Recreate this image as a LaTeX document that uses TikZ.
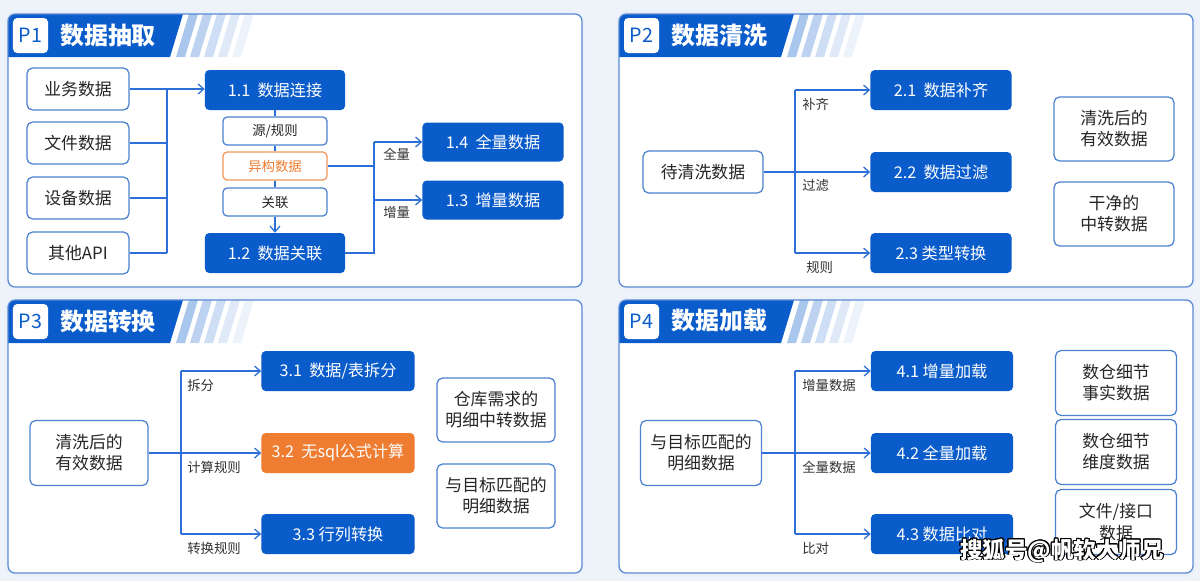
\documentclass[tikz,border=0pt]{standalone}
\usepackage{fontspec}
\usepackage{contour}
\usetikzlibrary{arrows.meta}
\newfontfamily\cjk{Noto Sans CJK SC}
\definecolor{mainblue}{HTML}{0A5CCB}
\definecolor{lineblue}{HTML}{2D6FD6}
\definecolor{frameblue}{HTML}{5A8AD2}
\definecolor{boxblue}{HTML}{4C82CF}
\definecolor{hot}{HTML}{EE7D31}
\definecolor{pagebg}{HTML}{EEF3FA}
\tikzstyle{srcbox}=[rectangle,rounded corners=4pt,draw=boxblue,line width=0.9pt,fill=white,text=black!85,font=\cjk\fontsize{12}{15}\selectfont,align=center,inner sep=0pt]
\tikzstyle{stepbox}=[rectangle,rounded corners=3pt,fill=mainblue,text=white,font=\cjk\fontsize{11.5}{14}\selectfont,inner sep=0pt,minimum height=1cm]
\tikzstyle{hotbox}=[stepbox,fill=hot]
\tikzstyle{tagbox}=[rectangle,rounded corners=3pt,draw=boxblue,line width=0.9pt,fill=white,text=black!85,font=\cjk\fontsize{9.5}{11}\selectfont,minimum width=2.6cm,minimum height=0.7cm,inner sep=0pt]
\tikzstyle{warnbox}=[tagbox,draw=hot!80,text=hot]
\tikzstyle{edge}=[draw=lineblue,line width=0.9pt]
\tikzstyle{flow}=[edge,-{Straight Barb[length=4pt,width=7pt]}]
\tikzstyle{cond}=[font=\cjk\fontsize{9.5}{11}\selectfont,text=black!80,anchor=west,inner sep=0pt]
\contourlength{0.7pt}

\begin{document}
\begin{tikzpicture}[x=0.025cm,y=-0.025cm]
\fill[pagebg] (0,0) rectangle (1200,581);
\useasboundingbox (0,0) rectangle (1200,581);
\foreach \px/\py/\pn/\pt in {8/14/P1/数据抽取,619/14/P2/数据清洗,8/300/P3/数据转换,619/300/P4/数据加载}{
\draw[frameblue!12,line width=5pt,rounded corners=6pt] (\px,\py) rectangle (\px+574,\py+273);
\fill[white,rounded corners=5pt] (\px,\py) rectangle (\px+574,\py+273);
\begin{scope}
\clip[rounded corners=5pt] (\px,\py) rectangle (\px+574,\py+273);
\fill[mainblue] (\px,\py)--(\px+175,\py)--(\px+162,\py+43)--(\px,\py+43)--cycle;
\fill[mainblue,opacity=0.35] (\px+181,\py)--(\px+190,\py)--(\px+177,\py+43)--(\px+168,\py+43)--cycle;
\fill[mainblue,opacity=0.27] (\px+195,\py)--(\px+204,\py)--(\px+191,\py+43)--(\px+182,\py+43)--cycle;
\fill[mainblue,opacity=0.2] (\px+209,\py)--(\px+218,\py)--(\px+205,\py+43)--(\px+196,\py+43)--cycle;
\fill[mainblue,opacity=0.13] (\px+223,\py)--(\px+232,\py)--(\px+219,\py+43)--(\px+210,\py+43)--cycle;
\fill[mainblue,opacity=0.07] (\px+237,\py)--(\px+246,\py)--(\px+233,\py+43)--(\px+224,\py+43)--cycle;
\end{scope}
\draw[frameblue,line width=0.9pt,rounded corners=5pt] (\px,\py) rectangle (\px+574,\py+273);
\node[fill=white,rounded corners=3pt,minimum width=0.875cm,minimum height=0.875cm,inner sep=0pt,text=mainblue,font=\cjk\fontsize{14}{16}\selectfont] (tag\pn) at (\px+22.5,\py+21.5) {\pn};
\node[anchor=west,inner sep=0pt,text=white,font=\cjk\bfseries\fontsize{17}{20}\selectfont] (title\pn) at (\px+52,\py+21) {\pt};
}
\node[srcbox,minimum width=2.55cm,minimum height=1.05cm] (biz) at (78,89) {业务数据};
\node[srcbox,minimum width=2.55cm,minimum height=1.05cm] (file) at (78,143) {文件数据};
\node[srcbox,minimum width=2.55cm,minimum height=1.05cm] (dev) at (78,198) {设备数据};
\node[srcbox,minimum width=2.55cm,minimum height=1.05cm] (api) at (78,253) {其他API};
\node[stepbox,minimum width=3.5cm] (conn) at (275,90) {1.1\ \ 数据连接};
\node[tagbox] (rule) at (275,131) {源/规则};
\node[warnbox] (hetero) at (275,166) {异构数据};
\node[tagbox] (rel) at (275,202) {关联};
\node[stepbox,minimum width=3.5cm] (join) at (275,253) {1.2\ \ 数据关联};
\node[stepbox,minimum width=3.525cm,minimum height=0.975cm] (full) at (493,142) {1.4\ \ 全量数据};
\node[stepbox,minimum width=3.525cm,minimum height=0.975cm] (incr) at (493,200) {1.3\ \ 增量数据};
\coordinate (m1) at (167,89);\coordinate (m2) at (167,253);
\coordinate (s1) at (374,142);\coordinate (s2) at (374,253);
\draw[flow](biz.east)--(biz.east -| conn.west);\draw[edge](m1)--(m2);
\draw[edge](file.east)--(file.east -| m1);\draw[edge](dev.east)--(dev.east -| m1);\draw[edge](api.east)--(api.east -| m1);
\draw[edge](conn)--(rule);\draw[edge](rule)--(hetero);\draw[edge](hetero)--(rel);\draw[flow](rel)--(join);
\draw[edge](hetero.east)--(hetero.east -| s1);\draw[edge](join.east)--(s2)--(s1);
\draw[flow](s1)--(full);\draw[flow](s1 |- incr)--(incr);
\node[cond] (lfull) at (383,154) {全量};
\node[cond] (lincr) at (383,212) {增量};
\node[srcbox,minimum width=3cm,minimum height=1.05cm] (raw) at (703,172) {待清洗数据};
\node[stepbox,minimum width=3.525cm] (pad) at (941,90) {2.1\ \ 数据补齐};
\node[stepbox,minimum width=3.525cm] (filt) at (941,172) {2.2\ \ 数据过滤};
\node[stepbox,minimum width=3.525cm] (cast) at (941,253) {2.3 类型转换};
\node[srcbox,minimum width=3cm,minimum height=1.6cm] (valid) at (1114,129) {清洗后的\\有效数据};
\node[srcbox,minimum width=3cm,minimum height=1.6cm] (clean) at (1114,214) {干净的\\中转数据};
\coordinate (n1) at (795,90);\coordinate (n2) at (795,253);
\draw[flow](raw)--(filt);\draw[edge](n1)--(n2);\draw[flow](n1)--(pad);\draw[flow](n2)--(cast);
\node[cond] (lpad) at (802,104) {补齐};
\node[cond] (lfilt) at (802,185) {过滤};
\node[cond] (lcast) at (806,267) {规则};
\node[srcbox,minimum width=2.95cm,minimum height=1.625cm] (valid3) at (89,453) {清洗后的\\有效数据};
\node[stepbox,minimum width=3.825cm] (split) at (338,371) {3.1\ \ 数据/表拆分};
\node[hotbox,minimum width=3.825cm] (calc) at (338,453) {3.2\ \ 无sql公式计算};
\node[stepbox,minimum width=3.825cm] (pivot) at (338,534) {3.3 行列转换};
\node[srcbox,minimum width=2.95cm,minimum height=1.6cm] (whse) at (496,410) {仓库需求的\\明细中转数据};
\node[srcbox,minimum width=2.95cm,minimum height=1.6cm] (match3) at (496,496) {与目标匹配的\\明细数据};
\coordinate (q1) at (181,371);\coordinate (q2) at (181,534);
\draw[flow](valid3)--(calc);\draw[edge](q1)--(q2);\draw[flow](q1)--(split);\draw[flow](q2)--(pivot);
\node[cond] (lsplit) at (187,385) {拆分};
\node[cond] (lcalc) at (187,467) {计算规则};
\node[cond] (lpivot) at (187,548) {转换规则};
\node[srcbox,minimum width=3.025cm,minimum height=1.625cm] (match4) at (701,453) {与目标匹配的\\明细数据};
\node[stepbox,minimum width=3.55cm] (load1) at (942,371) {4.1 增量加载};
\node[stepbox,minimum width=3.55cm] (load2) at (942,453) {4.2 全量加载};
\node[stepbox,minimum width=3.55cm] (cmp) at (942,534) {4.3 数据比对};
\node[srcbox,minimum width=3.025cm,minimum height=1.625cm] (fact) at (1116,383) {数仓细节\\事实数据};
\node[srcbox,minimum width=3.025cm,minimum height=1.625cm] (dim) at (1116,452) {数仓细节\\维度数据};
\node[srcbox,minimum width=3.025cm,minimum height=1.625cm] (iface) at (1116,522) {文件/接口\\数据};
\coordinate (r1) at (795,371);\coordinate (r2) at (795,534);
\draw[flow](match4)--(load2);\draw[edge](r1)--(r2);\draw[flow](r1)--(load1);\draw[flow](r2)--(cmp);
\node[cond] (lload1) at (802,385) {增量数据};
\node[cond] (lload2) at (802,467) {全量数据};
\node[cond] (lcmp) at (802,548) {比对};
\node[text=white,font=\cjk\bfseries\fontsize{16}{18}\selectfont,inner sep=0pt] (mark) at (1062,551) {\contour{black}{搜狐号@帆软大师兄}};
\end{tikzpicture}
\end{document}
